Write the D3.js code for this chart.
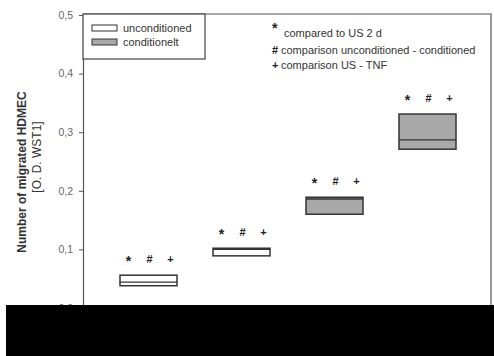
<!DOCTYPE html>
<html>
<head>
<meta charset="utf-8">
<script src="https://cdn.jsdelivr.net/npm/d3@7"></script>
<style>
  body { margin: 0; background: #fff; }
  svg { display: block; font-family: "Liberation Sans", Arial, sans-serif; }
</style>
</head>
<body>
<div id="chart"><svg width="494" height="356"></svg></div>
<script>
// groups along x, left to right
const groups = ["US 2 d", "US TNF", "cond 2 d", "cond TNF"];
const kinds = ["unconditioned", "unconditioned", "conditioned", "conditioned"];
// box plot values (O.D. WST1)
const q1 = [0.038, 0.089, 0.160, 0.271];
const median = [0.044, 0.100, 0.186, 0.287];
const q3 = [0.056, 0.102, 0.189, 0.331];
const yTicks = [0, 0.1, 0.2, 0.3, 0.4, 0.5];
const yTickLabels = ["0,0", "0,1", "0,2", "0,3", "0,4", "0,5"];
const marks = ["*", "#", "+"];
const legendItems = ["unconditioned", "conditionelt"];
const notes = ["compared to US 2 d", "comparison unconditioned - conditioned", "comparison US - TNF"];

const svg = d3.select("#chart").select("svg");
const plotLeft = 83, plotRight = 491, plotTop = 15, plotBottom = 308;

const yScale = d3.scaleLinear().domain([0, 0.5]).range([plotBottom, plotTop]);
const xScale = d3.scalePoint().domain(groups).range([148.5, 427.5]);
const boxW = 57;
const fill = { unconditioned: "#ffffff", conditioned: "#a9a9a9" };

// frame (top and right)
svg.append("path")
  .attr("d", `M${plotLeft},${plotTop - 1}H${plotRight}V${plotBottom}`)
  .attr("fill", "none")
  .attr("stroke", "#555")
  .attr("stroke-width", 1.2);

// y axis
const yAxis = d3.axisLeft(yScale)
  .tickValues(yTicks)
  .tickFormat((d, i) => yTickLabels[i])
  .tickSize(4)
  .tickPadding(6);

const ax = svg.append("g")
  .attr("transform", `translate(${plotLeft},0)`)
  .call(yAxis);
ax.select(".domain").attr("stroke", "#555").attr("stroke-width", 1.2);
ax.selectAll(".tick line").attr("stroke", "#555");
ax.selectAll("text").attr("font-size", 10.5).attr("fill", "#666");

// axis title
svg.append("text")
  .attr("transform", "translate(26,172) rotate(-90)")
  .attr("text-anchor", "middle")
  .attr("font-size", 12)
  .attr("font-weight", "bold")
  .attr("fill", "#333")
  .text("Number of migrated HDMEC");
svg.append("text")
  .attr("transform", "translate(41,157) rotate(-90)")
  .attr("text-anchor", "middle")
  .attr("font-size", 12)
  .attr("fill", "#333")
  .text("[O. D. WST1]");

// boxes
const data = groups.map((g, i) => ({ g, kind: kinds[i], q1: q1[i], med: median[i], q3: q3[i] }));

const boxes = svg.selectAll(".box").data(data).enter().append("g").attr("class", "box");
boxes.append("rect")
  .attr("x", (d) => xScale(d.g) - boxW / 2)
  .attr("y", (d) => yScale(d.q3))
  .attr("width", boxW)
  .attr("height", (d) => yScale(d.q1) - yScale(d.q3))
  .attr("fill", (d) => fill[d.kind])
  .attr("stroke", "#333")
  .attr("stroke-width", 1.5);
boxes.append("line")
  .attr("x1", (d) => xScale(d.g) - boxW / 2)
  .attr("x2", (d) => xScale(d.g) + boxW / 2)
  .attr("y1", (d) => yScale(d.med))
  .attr("y2", (d) => yScale(d.med))
  .attr("stroke", "#333")
  .attr("stroke-width", 1.3);

// significance marks above each box
const offsets = [-20, 1, 22];
boxes.selectAll(".mark")
  .data((d) => marks.map((m, j) => ({ m, x: xScale(d.g) + offsets[j], y: yScale(d.q3) - 16 })))
  .enter()
  .append("text")
  .attr("class", "mark")
  .attr("x", (d) => d.x)
  .attr("y", (d) => d.y + (d.m === "*" ? 7 : 4))
  .attr("text-anchor", "middle")
  .attr("font-size", (d) => (d.m === "*" ? 14 : 11))
  .attr("font-weight", "bold")
  .attr("fill", "#222")
  .text((d) => d.m);

// legend
svg.append("rect")
  .attr("x", plotLeft).attr("y", plotTop - 1)
  .attr("width", 122).attr("height", 45)
  .attr("fill", "#fff").attr("stroke", "#444").attr("stroke-width", 1.2);
const lg = svg.selectAll(".legend-item").data(legendItems).enter()
  .append("g").attr("class", "legend-item")
  .attr("transform", (d, i) => `translate(92, ${25 + i * 14})`);
lg.append("rect")
  .attr("width", 25).attr("height", 6)
  .attr("fill", (d, i) => (i === 0 ? fill.unconditioned : fill.conditioned))
  .attr("stroke", "#333").attr("stroke-width", 1);
lg.append("text")
  .attr("x", 31).attr("y", 7)
  .attr("font-size", 11).attr("fill", "#333")
  .text((d) => d);

// notes
const noteY = [37, 54, 69];
notes.forEach((t, i) => {
  svg.append("text")
    .attr("x", 272).attr("y", i === 0 ? 33 : noteY[i])
    .attr("font-size", i === 0 ? 14 : 11)
    .attr("font-weight", "bold")
    .attr("fill", "#222")
    .text(marks[i]);
  svg.append("text")
    .attr("x", i === 0 ? 284 : 281).attr("y", noteY[i])
    .attr("font-size", 11).attr("fill", "#333")
    .text(t);
});

// black band covering the bottom of the figure
svg.append("rect")
  .attr("x", 6).attr("y", 305)
  .attr("width", 488).attr("height", 51)
  .attr("fill", "#000");
</script>
</body>
</html>
